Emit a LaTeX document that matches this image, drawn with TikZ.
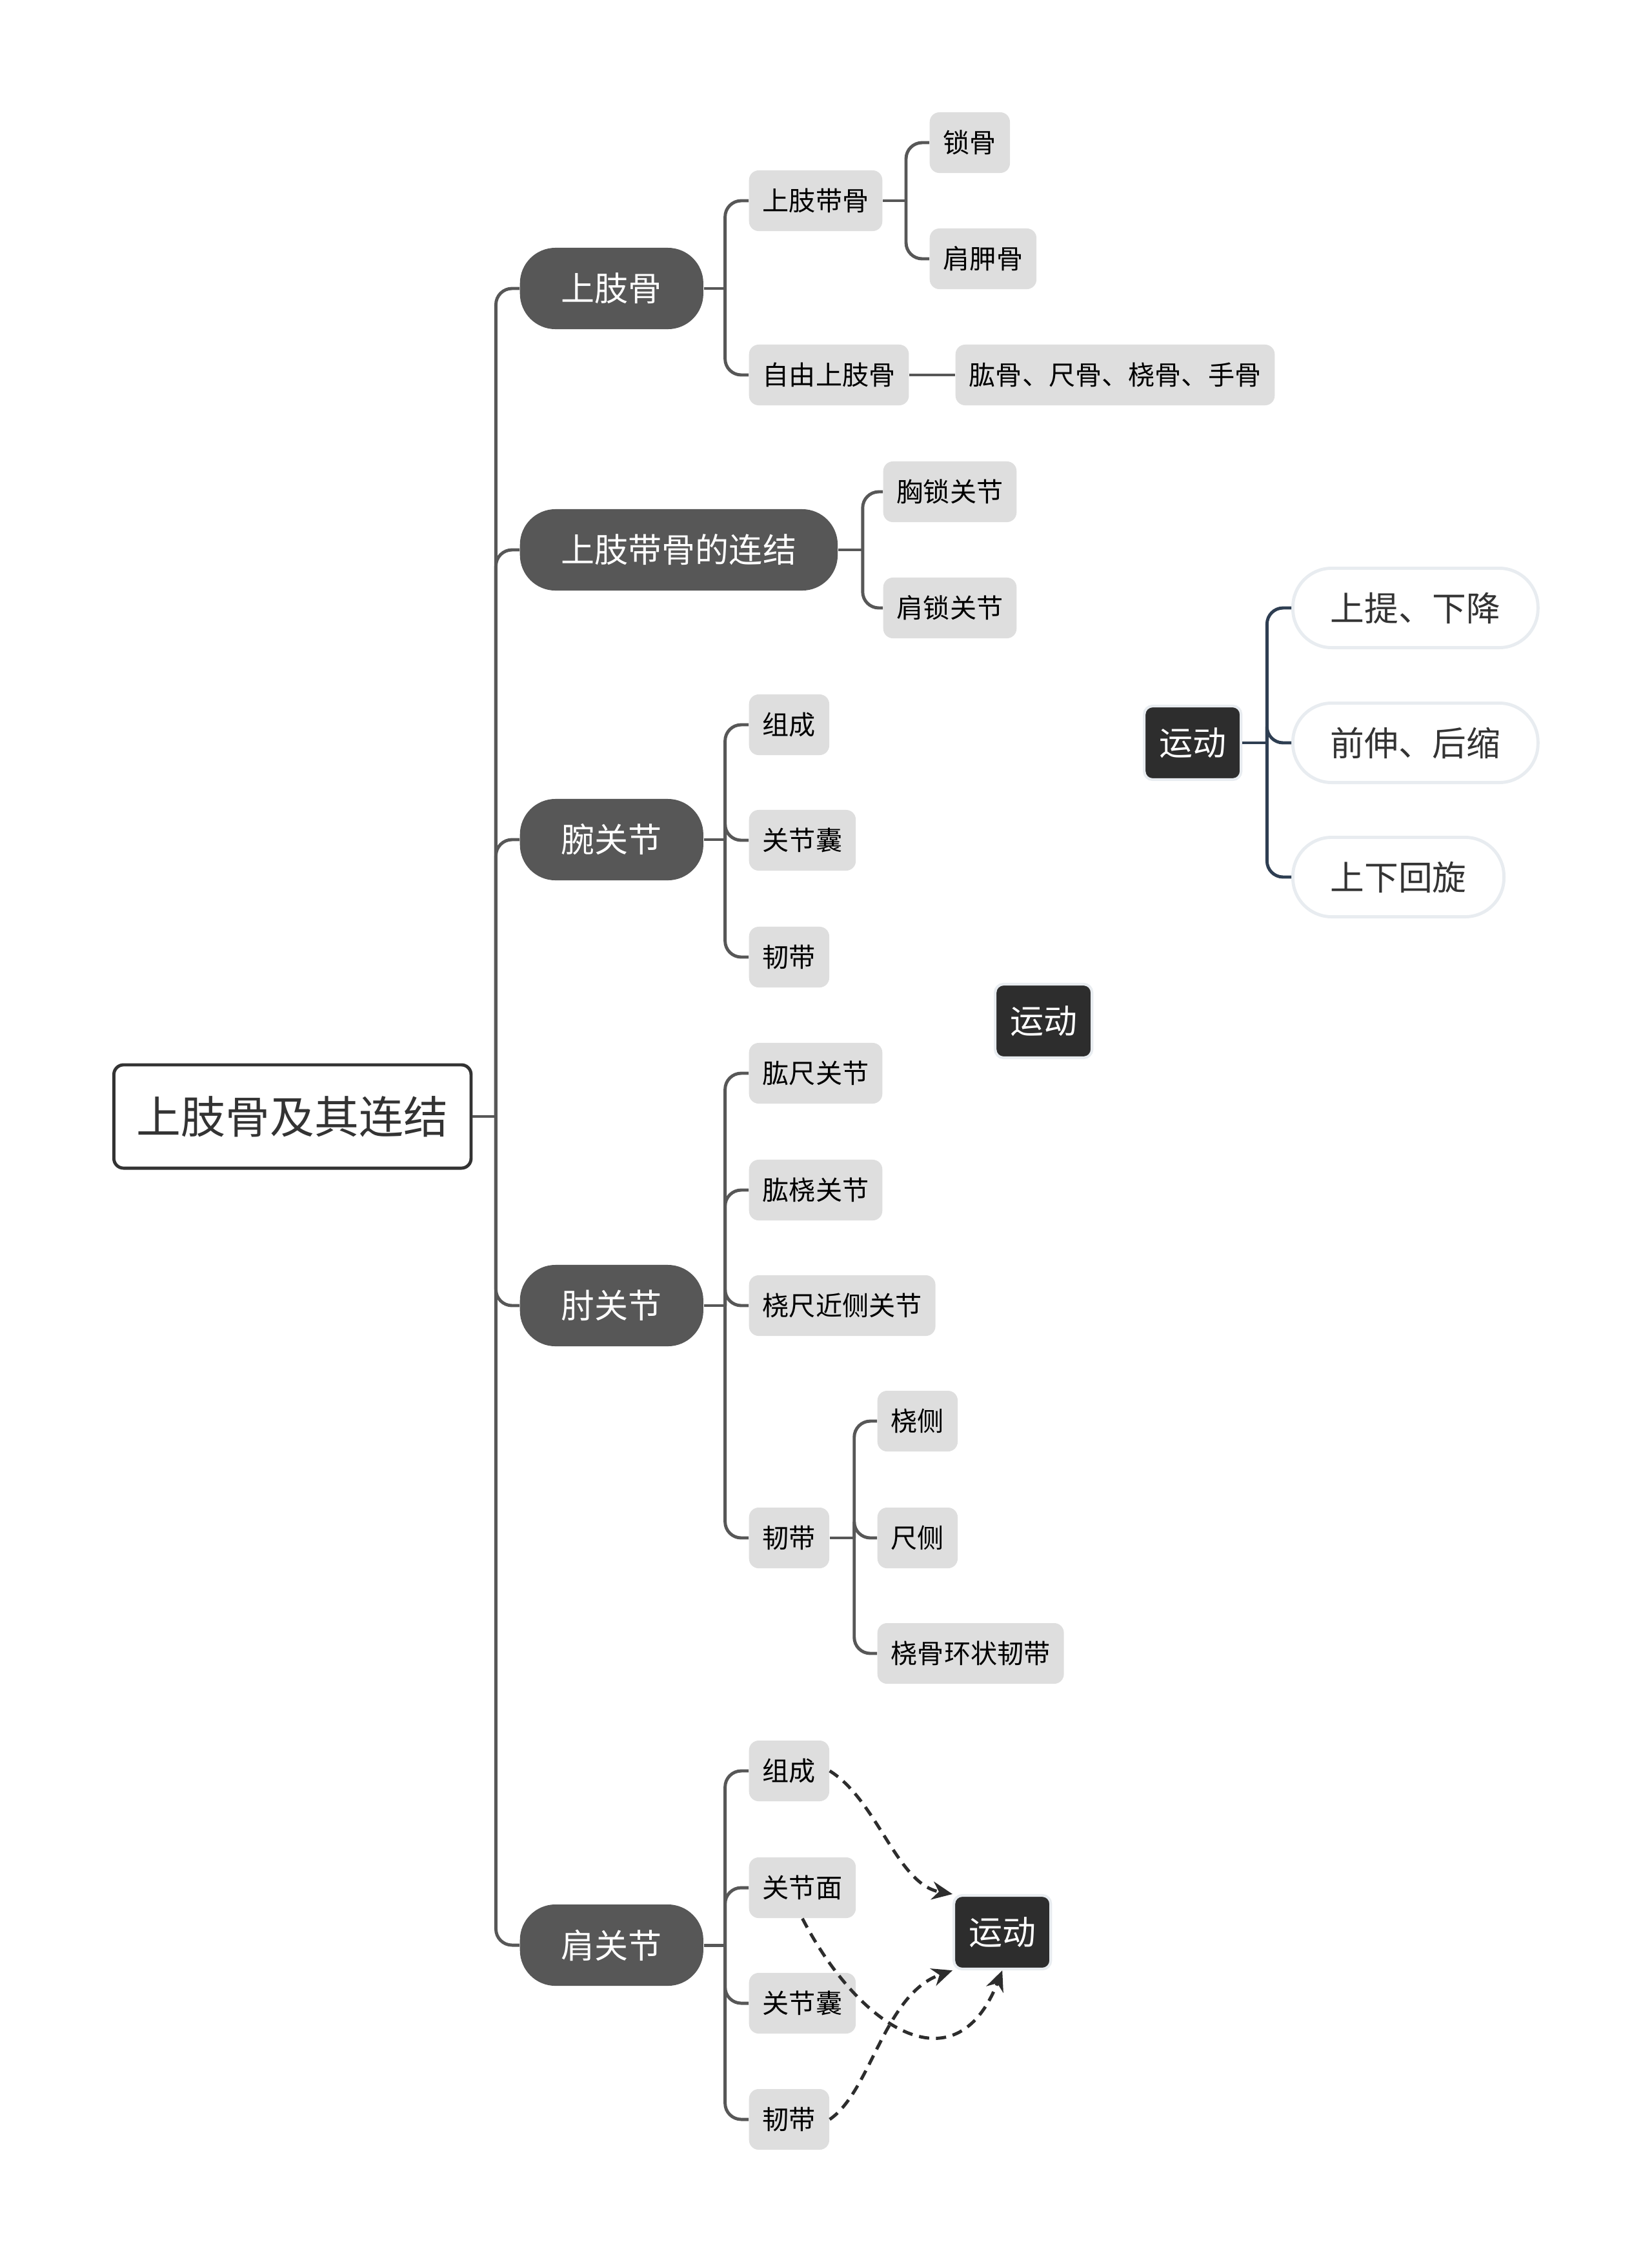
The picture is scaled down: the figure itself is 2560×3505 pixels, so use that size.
\documentclass[tikz,border=0pt]{standalone}
\usepackage{fontspec}
\setmainfont{Noto Sans CJK SC}
\usetikzlibrary{arrows.meta}

\definecolor{branch}{HTML}{575757}
\definecolor{leafgray}{HTML}{DEDEDE}
\definecolor{navy}{HTML}{2E3E52}
\definecolor{edgegray}{HTML}{E8ECF0}
\definecolor{darkbox}{HTML}{2D2D2D}
\definecolor{txt}{HTML}{333333}

\tikzset{
  root/.style={draw=txt, line width=1.4pt, fill=white, rounded corners=0.15cm, text=txt,
    inner xsep=0.355cm, minimum height=1.6cm, font=\fontsize{19.6pt}{22pt}\selectfont},
  topic/.style={fill=branch, text=white, rounded corners=0.55cm, inner xsep=0.64cm,
    minimum height=1.26cm, font=\fontsize{14.8pt}{17pt}\selectfont},
  leaf/.style={fill=leafgray, text=black, rounded corners=0.15cm, inner xsep=0.21cm,
    minimum height=0.94cm, font=\fontsize{11.7pt}{14pt}\selectfont},
  movebox/.style={fill=darkbox, draw=edgegray, line width=1.2pt, text=white, rounded corners=0.13cm,
    inner xsep=0.23cm, minimum height=1.14cm, font=\fontsize{14.8pt}{17pt}\selectfont},
  actpill/.style={fill=white, draw=edgegray, line width=1.4pt, text=txt, rounded corners=0.6cm,
    inner xsep=0.58cm, minimum height=1.23cm, font=\fontsize{15pt}{17pt}\selectfont},
  link/.style={draw=branch, line width=1.4pt, rounded corners=0.25cm},
  actlink/.style={draw=navy, line width=1.4pt, rounded corners=0.25cm},
  relation/.style={draw=darkbox, line width=1.4pt, dash pattern=on 4.5pt off 3pt,
    -{Stealth[length=9pt,width=8pt]}}
}

\begin{document}
\begin{tikzpicture}[x=0.01cm, y=-0.01cm]
\useasboundingbox (0,0) rectangle (2560,3505);

% Root
\node[root, anchor=west] (root) at (174,1730) {上肢骨及其连结};

% Main branches
\node[topic, anchor=west] (bone) at (805,447) {上肢骨};
\node[topic, anchor=west] (girdle) at (805,852) {上肢带骨的连结};
\node[topic, anchor=west] (wrist) at (805,1301) {腕关节};
\node[topic, anchor=west] (elbow) at (805,2023) {肘关节};
\node[topic, anchor=west] (shoulder) at (805,3014) {肩关节};
\draw[link] (root.east) -- ++(36,0) coordinate (trunk);
\foreach \n in {bone,girdle,wrist,elbow,shoulder}
  \draw[link] (trunk) |- (\n.west);

% Upper limb bones
\node[leaf, anchor=west] (girdlebone) at (1160,311) {上肢带骨};
\node[leaf, anchor=west] (freebone) at (1160,581) {自由上肢骨};
\draw[link] (bone.east) -- ++(33,0) coordinate (jbone);
\foreach \n in {girdlebone,freebone}
  \draw[link] (jbone) |- (\n.west);

\node[leaf, anchor=west] (clavicle) at (1440,221) {锁骨};
\node[leaf, anchor=west] (scapula) at (1440,401) {肩胛骨};
\draw[link] (girdlebone.east) -- ++(36,0) coordinate (jgb);
\foreach \n in {clavicle,scapula}
  \draw[link] (jgb) |- (\n.west);

\node[leaf, anchor=west] (armbones) at (1480,581) {肱骨、尺骨、桡骨、手骨};
\draw[link] (freebone.east) -- (armbones.west);

% Girdle joints
\node[leaf, anchor=west] (sterno) at (1368,762) {胸锁关节};
\node[leaf, anchor=west] (acromio) at (1368,942) {肩锁关节};
\draw[link] (girdle.east) -- ++(38,0) coordinate (jgirdle);
\foreach \n in {sterno,acromio}
  \draw[link] (jgirdle) |- (\n.west);

% Wrist
\node[leaf, anchor=west] (wcomp) at (1160,1123) {组成};
\node[leaf, anchor=west] (wcaps) at (1160,1302) {关节囊};
\node[leaf, anchor=west] (wlig) at (1160,1483) {韧带};
\draw[link] (wrist.east) -- ++(33,0) coordinate (jwrist);
\foreach \n in {wcomp,wcaps,wlig}
  \draw[link] (jwrist) |- (\n.west);

% Elbow
\node[leaf, anchor=west] (ehu) at (1160,1663) {肱尺关节};
\node[leaf, anchor=west] (ehr) at (1160,1844) {肱桡关节};
\node[leaf, anchor=west] (eru) at (1160,2023) {桡尺近侧关节};
\node[leaf, anchor=west] (elig) at (1160,2383) {韧带};
\draw[link] (elbow.east) -- ++(33,0) coordinate (jelbow);
\foreach \n in {ehu,ehr,eru,elig}
  \draw[link] (jelbow) |- (\n.west);

\node[leaf, anchor=west] (radside) at (1359,2202) {桡侧};
\node[leaf, anchor=west] (ulnside) at (1359,2383) {尺侧};
\node[leaf, anchor=west] (annular) at (1359,2562) {桡骨环状韧带};
\draw[link] (elig.east) -- ++(38,0) coordinate (jelig);
\foreach \n in {radside,ulnside,annular}
  \draw[link] (jelig) |- (\n.west);

% Shoulder
\node[leaf, anchor=west] (scomp) at (1160,2744) {组成};
\node[leaf, anchor=west] (sface) at (1160,2925) {关节面};
\node[leaf, anchor=west] (scaps) at (1160,3104) {关节囊};
\node[leaf, anchor=west] (slig) at (1160,3284) {韧带};
\draw[link] (shoulder.east) -- ++(33,0) coordinate (jshoulder);
\foreach \n in {scomp,sface,scaps,slig}
  \draw[link] (jshoulder) |- (\n.west);

% Movements
\node[movebox, anchor=west] (move1) at (1771,1151) {运动};
\node[actpill, anchor=west] (lift) at (2001,942) {上提、下降};
\node[actpill, anchor=west] (protract) at (2001,1151) {前伸、后缩};
\node[actpill, anchor=west] (rotate) at (2001,1359) {上下回旋};
\draw[actlink] (move1.east) -- ++(38,0) coordinate (jmove);
\foreach \n in {lift,protract,rotate}
  \draw[actlink] (jmove) |- (\n.west);

\node[movebox, anchor=west] (move2) at (1540,1582) {运动};
\node[movebox, anchor=west] (move3) at (1476,2994) {运动};

% Dashed relations
\draw[relation] (scomp.east) .. controls (1360,2790) and (1390,2920) .. (move3.north west);
\draw[relation] (sface.south) .. controls (1330,3140) and (1480,3240) .. (move3.south);
\draw[relation] (slig.east) .. controls (1350,3240) and (1370,3090) .. (move3.south west);
\end{tikzpicture}
\end{document}
